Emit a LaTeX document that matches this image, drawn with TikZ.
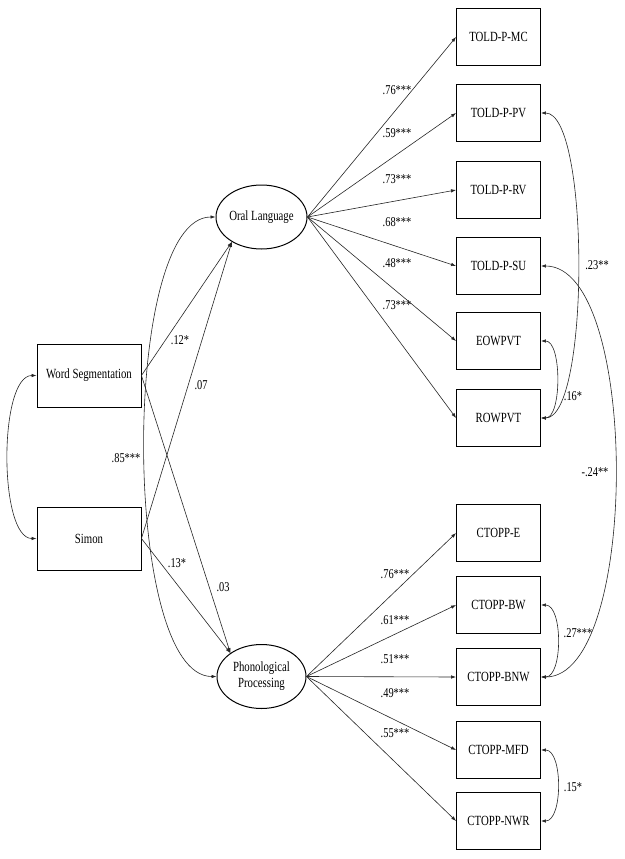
\documentclass[tikz,border=0pt]{standalone}
\usepackage{fontspec}
\setmainfont{Liberation Serif}[FakeStretch=0.77]
\usetikzlibrary{arrows.meta,shapes.geometric}
\begin{document}
\begin{tikzpicture}[x=1pt,y=-1pt,
  box/.style={draw=black,line width=0.9pt,minimum width=84pt,minimum height=57pt,inner sep=0pt,font=\fontsize{14}{16}\selectfont},
  lbox/.style={box,minimum width=104pt,minimum height=63pt},
  lat/.style={draw=black,ellipse,line width=1pt,minimum width=89pt,minimum height=64pt,inner sep=0pt,align=center,font=\fontsize{14}{16}\selectfont},
  arr/.style={draw=black!85,line width=0.6pt,-{Latex[length=5pt,width=3.5pt]}},
  cov/.style={draw=black!85,line width=0.6pt,{Latex[length=5pt,width=3.5pt]}-{Latex[length=5pt,width=3.5pt]}},
  lab/.style={font=\fontsize{13.5}{15}\selectfont,inner sep=0pt}
]
\fill[white] (0,0) rectangle (624,859);
\useasboundingbox (0,0) rectangle (624,859);
% latent variables
\node[lat] (OL) at (261.5,217) {Oral Language};
\node[lat] (PP) at (261.5,676.5) {Phonological\\Processing};
% predictors
\node[lbox] (WS) at (89,375.5) {Word Segmentation};
\node[lbox] (SI) at (89,538.5) {Simon};
% indicators
\node[box] (MC) at (498.5,37) {TOLD-P-MC};
\node[box] (PV) at (498.5,113) {TOLD-P-PV};
\node[box] (RV) at (498.5,190) {TOLD-P-RV};
\node[box] (SU) at (498.5,266) {TOLD-P-SU};
\node[box] (EO) at (498.5,341) {EOWPVT};
\node[box] (RO) at (498.5,418) {ROWPVT};
\node[box] (CE) at (498.5,533) {CTOPP-E};
\node[box] (BW) at (498.5,605) {CTOPP-BW};
\node[box] (BN) at (498.5,677) {CTOPP-BNW};
\node[box] (MF) at (498.5,750) {CTOPP-MFD};
\node[box] (NW) at (498.5,821) {CTOPP-NWR};
% loadings
\foreach \t in {MC,PV,RV,SU,EO,RO} \draw[arr] (OL.east) -- (\t.west);
\foreach \t in {CE,BW,BN,MF,NW} \draw[arr] (PP.east) -- (\t.west);
\node[lab] at (397,90) {.76***};
\node[lab] at (397,133) {.59***};
\node[lab] at (397,179) {.73***};
\node[lab] at (397,222) {.68***};
\node[lab] at (397,263) {.48***};
\node[lab] at (397,305) {.73***};
\node[lab] at (395,574) {.76***};
\node[lab] at (395,620) {.61***};
\node[lab] at (395,659) {.51***};
\node[lab] at (395,693) {.49***};
\node[lab] at (395,733) {.55***};
% structural paths
\draw[arr] (WS.east) -- (OL.220);
\draw[arr] (SI.east) -- (OL.220);
\draw[arr] (WS.east) -- (PP.143);
\draw[arr] (SI.east) -- (PP.143);
\node[lab] at (180,340) {.12*};
\node[lab] at (201,385) {.07};
\node[lab] at (177,563) {.13*};
\node[lab] at (223,587) {.03};
% covariances left
\draw[cov] (WS.west) .. controls +(-38,0) and +(-38,0) .. (SI.west);
\draw[cov] (OL.west) .. controls +(-95,0) and +(-95,0) .. (PP.west);
\node[lab] at (126,458) {.85***};
% covariances right
\draw[cov] (PV.east) .. controls +(49,0) and +(49,0) .. (RO.east);
\draw[cov] (EO.east) .. controls +(21,0) and +(21,0) .. (RO.east);
\draw[cov] (SU.east) .. controls +(99,0) and +(99,0) .. (BN.east);
\draw[cov] (BW.east) .. controls +(22,0) and +(22,0) .. (BN.east);
\draw[cov] (MF.east) .. controls +(22,0) and +(22,0) .. (NW.east);
\node[lab] at (597,265) {.23**};
\node[lab] at (573,396) {.16*};
\node[lab] at (595,472) {-.24**};
\node[lab] at (578,633) {.27***};
\node[lab] at (573,787) {.15*};
\end{tikzpicture}
\end{document}
